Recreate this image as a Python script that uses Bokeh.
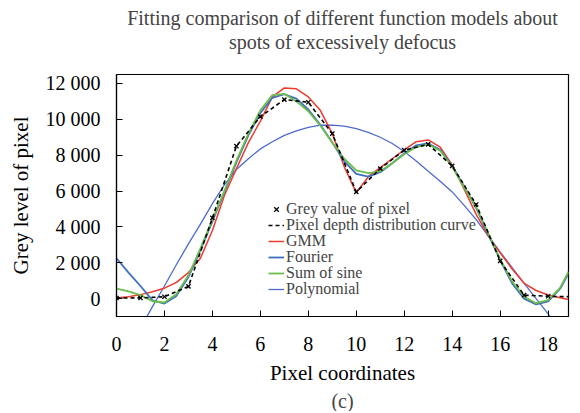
from bokeh.plotting import figure
from bokeh.models import Range1d, Legend, LegendItem, Title, FixedTicker
from bokeh.embed import file_html
from bokeh.resources import INLINE

# ---- data ----
pixel_x = list(range(20))
grey_value = [30, 40, 100, 680, 4500, 8500, 10150, 11100, 10950, 9200,
              5950, 7250, 8280, 8600, 7400, 5250, 2100, 190, 130, 100]

fit_x = [0, 0.5, 1, 1.5, 2, 2.5, 3, 3.5, 4, 4.5, 5, 5.5, 6, 6.5, 7, 7.5, 8, 8.5, 9, 9.5,
         10, 10.5, 11, 11.5, 12, 12.5, 13, 13.5, 14, 14.5, 15, 15.5, 16, 16.5, 17, 17.5,
         18, 18.5, 18.85]

gmm = [30, 100, 220, 380, 580, 900, 1450, 2250, 3800, 5750, 7250, 8700, 9900, 11250,
       11750, 11700, 11250, 10500, 9200, 7350, 5900, 6800, 7300, 7800, 8300, 8750, 8850,
       8450, 7450, 6100, 4700, 3500, 2550, 1650, 850, 450, 200, 50, -50]

fourier = [2250, 1450, 700, -100, -280, 150, 1200, 2700, 4300, 5950, 7600, 9100, 10350,
           11200, 11400, 11150, 10550, 9700, 8700, 7650, 6950, 6800, 7050, 7550, 8100,
           8550, 8650, 8300, 7400, 6250, 5050, 3600, 2150, 850, 0, -330, -150, 550, 1400]

sum_of_sine = [550, 400, 190, -150, -220, 250, 1300, 2800, 4400, 6000, 7700, 9200, 10500,
               11350, 11420, 11000, 10450, 9650, 8700, 7800, 7150, 7000, 7100, 7550, 8050,
               8450, 8600, 8250, 7350, 6200, 5100, 3650, 2200, 950, 100, -260, -80, 600, 1500]

polynomial = [-4500, -3300, -1650, -450, 700, 1900, 3050, 4150, 5300, 6350, 7200, 7800,
              8350, 8750, 9100, 9350, 9550, 9670, 9680, 9620, 9480, 9270, 9000, 8650, 8200,
              7680, 7100, 6550, 5950, 5200, 4400, 3500, 2600, 1730, 850, 0, -850, -1800, -2500]

x_ticks = [0, 2, 4, 6, 8, 10, 12, 14, 16, 18]
y_ticks = [0, 2000, 4000, 6000, 8000, 10000, 12000]
y_tick_labels = ["0", "2 000", "4 000", "6 000", "8 000", "10 000", "12 000"]

title_line1 = "Fitting comparison of different function models about"
title_line2 = "spots of excessively defocus"
x_label = "Pixel coordinates"
y_label = "Grey level of pixel"
panel_label = "(c)"

FONT = "Liberation Serif"

p = figure(width=576, height=411, output_backend="svg", toolbar_location=None,
           x_range=Range1d(0, 18.85), y_range=Range1d(-1000, 12500),
           min_border_left=116, min_border_right=8, min_border_top=74,
           min_border_bottom=89)

p.grid.visible = False
p.outline_line_color = "black"
p.outline_line_width = 1.2
p.background_fill_color = "white"
p.border_fill_color = "white"

# spacer between frame and title, then the two title lines (inner first)
spacer = Title(text=" ", align="center", text_font=FONT, text_font_size="18px",
               text_line_height=1.0, standoff=0)
t2 = Title(text=title_line2, align="center", text_font=FONT, text_font_size="20px",
           text_font_style="normal", text_line_height=1.0, standoff=0)
t1 = Title(text=title_line1, align="center", text_font=FONT, text_font_size="20px",
           text_font_style="normal", text_line_height=1.0, standoff=0)
p.add_layout(spacer, "above")
p.add_layout(t2, "above")
p.add_layout(t1, "above")

p.axis.axis_line_color = "black"
p.axis.axis_line_width = 1.2
p.axis.major_tick_in = 6
p.axis.major_tick_out = 0
p.axis.minor_tick_line_color = None
p.axis.major_label_text_font = FONT
p.axis.major_label_text_font_size = "20px"
p.axis.major_label_text_color = "black"
p.axis.axis_label_text_font = FONT
p.axis.axis_label_text_font_size = "21px"
p.axis.axis_label_text_font_style = "normal"
p.axis.axis_label_text_color = "black"

p.xaxis.ticker = FixedTicker(ticks=x_ticks)
p.yaxis.ticker = FixedTicker(ticks=y_ticks)
p.yaxis.major_label_overrides = {t: l for t, l in zip(y_ticks, y_tick_labels)}
p.xaxis.axis_label = x_label
p.yaxis.axis_label = y_label
p.xaxis.major_label_standoff = 20
p.yaxis.major_label_standoff = 16
p.xaxis.axis_label_standoff = 7
p.yaxis.axis_label_standoff = 10

p.add_layout(Title(text=panel_label, align="center", text_font=FONT,
                   text_font_size="20px", text_font_style="normal", standoff=0), "below")

r_poly = p.line(fit_x, polynomial, line_color="#4F6BD0", line_width=1.3)
r_gmm = p.line(fit_x, gmm, line_color="#EE3B2E", line_width=1.5)
r_four = p.line(fit_x, fourier, line_color="#3E6FBF", line_width=1.8)
r_sine = p.line(fit_x, sum_of_sine, line_color="#6BBE4C", line_width=1.8)
r_dash = p.line(pixel_x, grey_value, line_color="black", line_width=1.6, line_dash="4 3")
r_pts = p.scatter(pixel_x, grey_value, marker="x", size=6, line_color="black", line_width=1.3)

legend_entries = [
    ("Grey value of pixel", r_pts),
    ("Pixel depth distribution curve", r_dash),
    ("GMM", r_gmm),
    ("Fourier", r_four),
    ("Sum of sine", r_sine),
    ("Polynomial", r_poly),
]
# one single-row legend per entry so the row pitch matches the reference
for i, (lab, rend) in enumerate(legend_entries):
    lg = Legend(items=[LegendItem(label=lab, renderers=[rend])],
                location=(152, 98 - 16 * i), label_text_font=FONT,
                label_text_font_size="16px", label_height=16, glyph_height=16,
                glyph_width=16, label_standoff=2, spacing=0, padding=0, margin=0,
                border_line_color=None, background_fill_alpha=0)
    p.add_layout(lg, "center")

open("out.html", "w").write(file_html(p, INLINE))
